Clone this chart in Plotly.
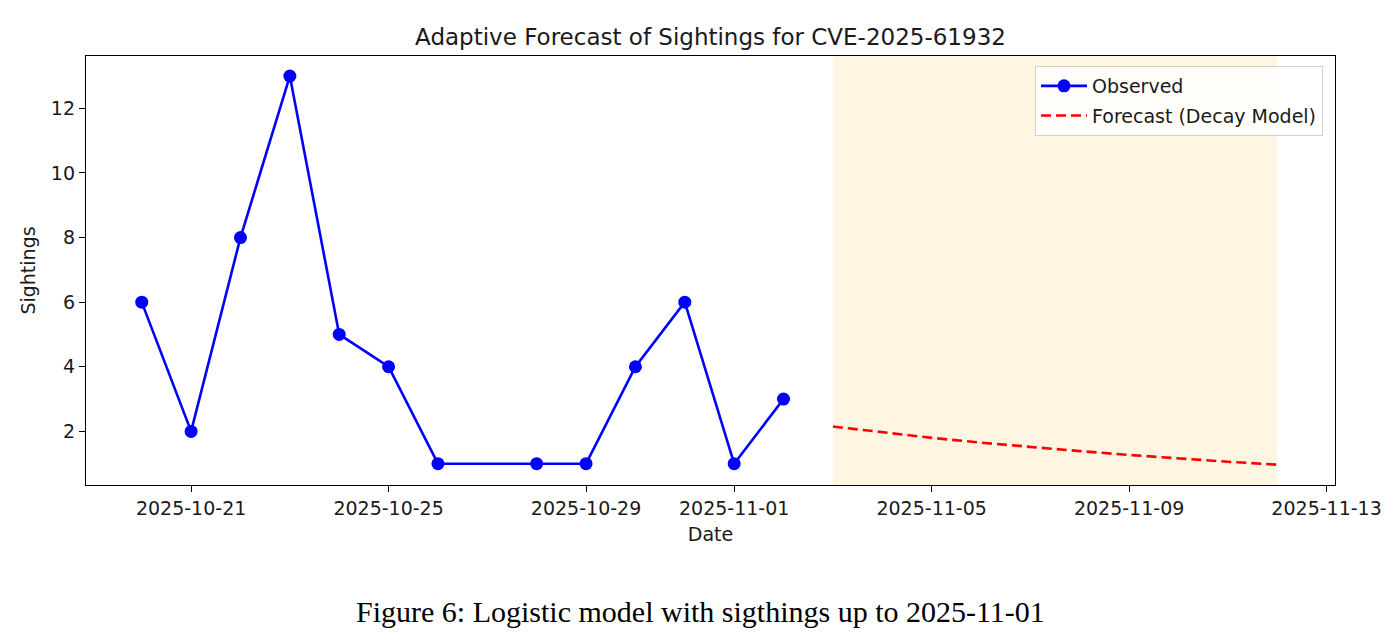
import plotly.graph_objects as go

obs_dates = ["2025-10-20", "2025-10-21", "2025-10-22", "2025-10-23", "2025-10-24",
             "2025-10-25", "2025-10-26", "2025-10-28", "2025-10-29", "2025-10-30",
             "2025-10-31", "2025-11-01", "2025-11-02"]
obs_values = [6, 2, 8, 13, 5, 4, 1, 1, 1, 4, 6, 1, 3]

fc_dates = ["2025-11-03", "2025-11-04", "2025-11-05", "2025-11-06", "2025-11-07",
            "2025-11-08", "2025-11-09", "2025-11-10", "2025-11-11", "2025-11-12"]
fc_values = [2.15, 1.97, 1.80, 1.65, 1.51, 1.39, 1.27, 1.16, 1.06, 0.97]

x_ticks = ["2025-10-21", "2025-10-25", "2025-10-29", "2025-11-01",
           "2025-11-05", "2025-11-09", "2025-11-13"]
y_ticks = [2, 4, 6, 8, 10, 12]

FONT = "DejaVu Sans"
TXT = "#1a1a1a"
FS = 19

fig = go.Figure()
fig.add_trace(go.Scatter(
    x=obs_dates, y=obs_values, mode="lines+markers", name="Observed",
    legendgroup="obs",
    line=dict(color="#0000ff", width=2.6),
    marker=dict(color="#0000ff", size=13),
))
fig.add_trace(go.Scatter(
    x=fc_dates, y=fc_values, mode="lines", name="Forecast (Decay Model)",
    legendgroup="fc",
    line=dict(color="#ff0000", width=2.6, dash="10px,5px"),
))

fig.add_shape(type="rect", xref="x", yref="paper",
              x0=fc_dates[0], x1=fc_dates[-1], y0=0, y1=1,
              fillcolor="rgba(255,165,0,0.11)", line=dict(width=0), layer="below")

axis_common = dict(
    showline=True, linecolor="black", linewidth=1.4, mirror=True,
    ticks="outside", ticklen=6, tickwidth=1.4, tickcolor="black",
    showgrid=False, zeroline=False,
    tickfont=dict(family=FONT, size=FS, color=TXT),
)

fig.update_layout(
    width=1398, height=644,
    paper_bgcolor="white", plot_bgcolor="white",
    margin=dict(l=86, r=63, t=56, b=159),
    showlegend=True,
    title=dict(text="Adaptive Forecast of Sightings for CVE-2025-61932",
               x=(86 + 1335) / 2 / 1398, xanchor="center",
               y=1 - 37 / 644, yanchor="middle",
               font=dict(family=FONT, size=23, color=TXT)),
    xaxis=dict(
        type="date",
        range=["2025-10-18 20:54", "2025-11-13 04:06"],
        tickvals=x_ticks, ticktext=x_ticks,
        title=dict(text="Date", font=dict(family=FONT, size=FS, color=TXT), standoff=9),
        **axis_common,
    ),
    yaxis=dict(
        range=[0.34, 13.62],
        tickvals=y_ticks,
        title=dict(text="Sightings", font=dict(family=FONT, size=FS, color=TXT), standoff=10),
        **axis_common,
    ),
    legend=dict(
        x=0.9904, y=0.9767, xanchor="right", yanchor="top",
        bgcolor="rgba(255,255,255,0.85)", bordercolor="#d0d0d0", borderwidth=1,
        font=dict(family=FONT, size=FS, color=TXT),
        itemwidth=46, tracegroupgap=2, traceorder="grouped",
    ),
    annotations=[dict(
        text="Figure 6: Logistic model with sigthings up to 2025-11-01",
        xref="paper", yref="paper", x=688 / 1398, xanchor="center",
        y=-(611 - 485) / (485 - 56), yanchor="middle",
        showarrow=False,
        font=dict(family="Liberation Serif", size=30, color="black"),
    )],
)

fig.write_html("out.html")
